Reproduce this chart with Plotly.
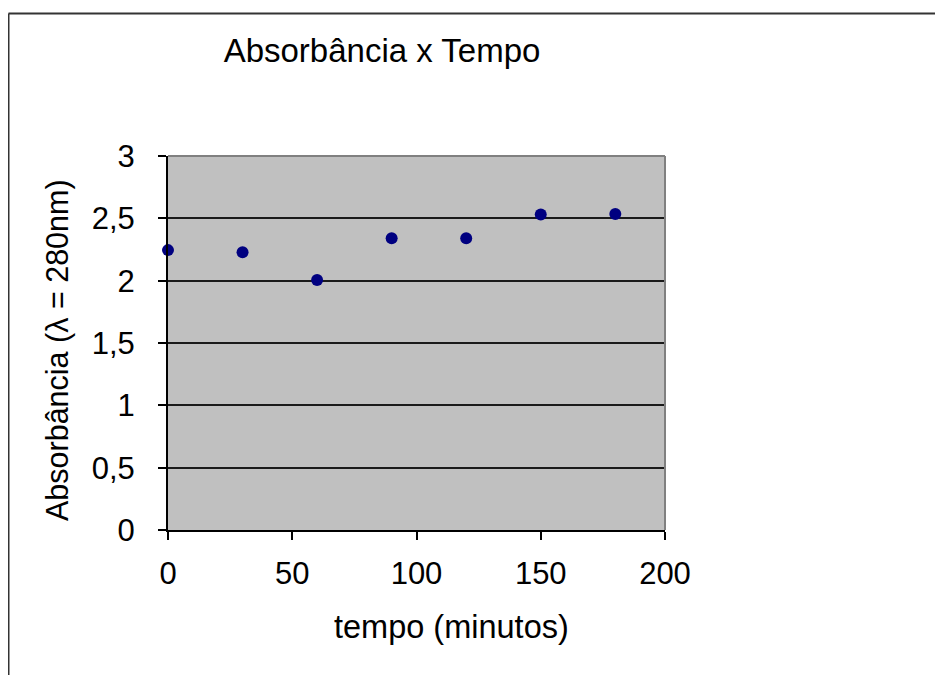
import plotly.graph_objects as go

tempo = [0, 30, 60, 90, 120, 150, 180]
absorbancia = [2.245, 2.228, 2.005, 2.34, 2.34, 2.53, 2.535]

x_ticks = [0, 50, 100, 150, 200]
y_ticks = [0, 0.5, 1, 1.5, 2, 2.5, 3]

W, H = 943, 675
OFF = 8  # page body margin offset
L, T = 168 - OFF, 156 - OFF
pw, ph = 497, 374
R, B = W - L - pw, H - T - ph

def px_x(p):
    return (p - OFF - L) / pw

def px_y(p):
    return (T + ph - (p - OFF)) / ph

fig = go.Figure()
fig.add_trace(go.Scatter(
    x=tempo, y=absorbancia, mode="markers",
    marker=dict(symbol="circle", size=12, color="#000080"),
    cliponaxis=False, showlegend=False,
))

font_family = "Liberation Sans, Arial, sans-serif"

fig.update_layout(
    width=W, height=H,
    margin=dict(l=L, r=R, t=T, b=B, pad=0),
    paper_bgcolor="white",
    plot_bgcolor="#c0c0c0",
    separators=",.",
    font=dict(family=font_family, color="black"),
    title=dict(text="Absorbância x Tempo", xref="paper", x=px_x(382), xanchor="center",
               yref="container", y=1 - (50 - OFF) / H, yanchor="middle",
               font=dict(size=33, family=font_family, color="black")),
    xaxis=dict(range=[0, 200], tickvals=x_ticks, showgrid=False, zeroline=False,
               showline=True, linecolor="black", linewidth=2,
               ticks="outside", ticklen=8, tickwidth=2, tickcolor="black",
               tickfont=dict(size=31, family=font_family, color="black"),
               ticklabelstandoff=7),
    yaxis=dict(range=[0, 3], tickvals=y_ticks, showgrid=True, gridcolor="#1a1a1a", gridwidth=2,
               zeroline=False, showline=True, linecolor="black", linewidth=2,
               ticks="outside", ticklen=8, tickwidth=2, tickcolor="black",
               tickfont=dict(size=31, family=font_family, color="black"),
               ticklabelstandoff=17),
    annotations=[
        dict(text="tempo (minutos)", xref="paper", yref="paper",
             x=px_x(451), y=px_y(627), xanchor="center", yanchor="middle",
             showarrow=False, font=dict(size=32.5, family=font_family, color="black")),
        dict(text="Absorbância (λ = 280nm)", xref="paper", yref="paper",
             x=px_x(57), y=px_y(350), xanchor="center", yanchor="middle", textangle=-90,
             showarrow=False, font=dict(size=30.5, family=font_family, color="black")),
    ],
    shapes=[
        # outer chart border (top and left edges visible)
        dict(type="line", xref="paper", yref="paper",
             x0=px_x(8.5), x1=px_x(1100), y0=px_y(13.5), y1=px_y(13.5),
             line=dict(color="#333333", width=2), layer="below"),
        dict(type="line", xref="paper", yref="paper",
             x0=px_x(8.5), x1=px_x(8.5), y0=px_y(13.5), y1=px_y(800),
             line=dict(color="#333333", width=2), layer="below"),
        # top and right plot area border (gray)
        dict(type="line", xref="paper", yref="paper", x0=0, x1=1, y0=1, y1=1,
             line=dict(color="#808080", width=2)),
        dict(type="line", xref="paper", yref="paper", x0=1, x1=1, y0=0, y1=1,
             line=dict(color="#808080", width=2)),
    ],
)

fig.write_html("out.html")
